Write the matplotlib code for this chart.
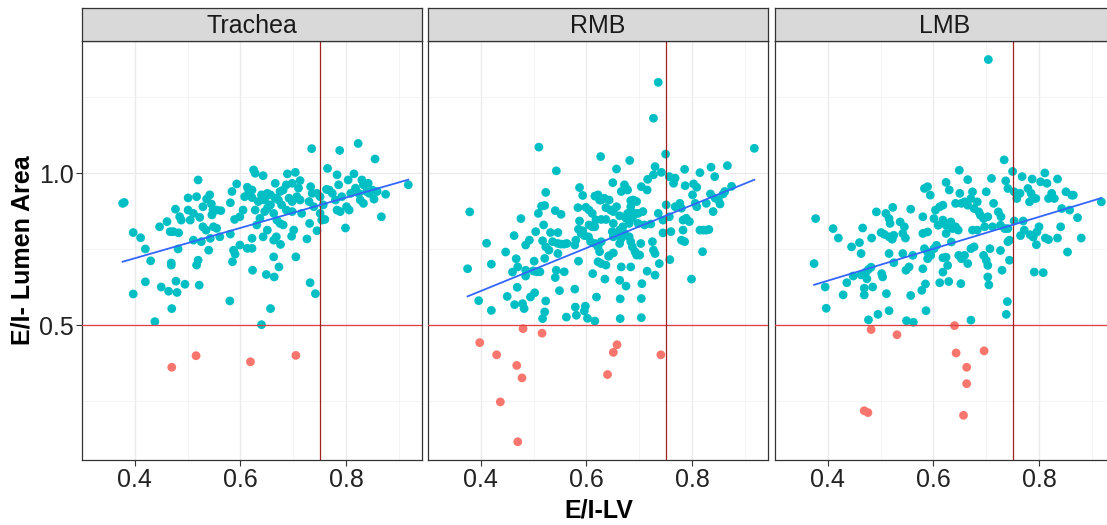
import numpy as np
import matplotlib
matplotlib.use('Agg')
import matplotlib.pyplot as plt

plt.rcParams['font.family'] = ['Liberation Sans', 'DejaVu Sans']

# facet names and cut-offs
panels = ['Trachea', 'RMB', 'LMB']
cut_lumen = 0.5
cut_lv = 0.75
x_ticks = [0.4, 0.6, 0.8]
x_minor = [0.3, 0.5, 0.7, 0.9]
y_ticks = [0.5, 1.0]
y_minor = [0.25, 0.75, 1.25]

# (E/I-LV, E/I lumen area)
trachea = [
    (0.377, 0.901), (0.380, 0.904), (0.397, 0.805), (0.411, 0.788), (0.420, 0.751), (0.430, 0.712),
    (0.397, 0.603), (0.420, 0.643), (0.438, 0.512), (0.447, 0.824), (0.450, 0.626), (0.464, 0.612),
    (0.470, 0.555), (0.469, 0.705), (0.469, 0.698), (0.478, 0.645), (0.480, 0.608), (0.495, 0.635),
    (0.482, 0.751), (0.461, 0.841), (0.467, 0.808), (0.473, 0.808), (0.483, 0.804), (0.477, 0.882),
    (0.485, 0.857), (0.488, 0.846), (0.501, 0.919), (0.501, 0.879), (0.505, 0.846), (0.511, 0.868),
    (0.517, 0.923), (0.520, 0.978), (0.523, 0.855), (0.529, 0.824), (0.522, 0.632), (0.517, 0.698),
    (0.520, 0.714), (0.511, 0.780), (0.526, 0.775), (0.540, 0.747), (0.529, 0.890), (0.536, 0.915),
    (0.542, 0.929), (0.545, 0.899), (0.548, 0.879), (0.555, 0.879), (0.563, 0.877), (0.546, 0.863),
    (0.549, 0.824), (0.535, 0.813), (0.543, 0.786), (0.561, 0.791), (0.555, 0.819), (0.581, 0.903),
    (0.584, 0.940), (0.593, 0.965), (0.589, 0.848), (0.599, 0.857), (0.605, 0.879), (0.613, 0.954),
    (0.616, 0.940), (0.622, 0.945), (0.625, 1.011), (0.628, 1.000), (0.643, 0.992), (0.622, 0.920),
    (0.608, 0.923), (0.634, 0.907), (0.628, 0.879), (0.581, 0.800), (0.587, 0.747), (0.590, 0.734),
    (0.585, 0.709), (0.599, 0.764), (0.613, 0.753), (0.622, 0.753), (0.622, 0.786), (0.623, 0.681),
    (0.580, 0.580), (0.631, 0.830), (0.637, 0.852), (0.643, 0.791), (0.651, 0.813), (0.649, 0.667),
    (0.657, 0.555), (0.640, 0.502), (0.663, 0.725), (0.664, 0.659), (0.673, 0.692), (0.668, 0.791),
    (0.663, 0.780), (0.676, 0.766), (0.646, 0.874), (0.651, 0.885), (0.657, 0.896), (0.663, 0.868),
    (0.669, 0.846), (0.675, 0.835), (0.681, 0.830), (0.651, 0.934), (0.657, 0.929), (0.666, 0.967),
    (0.675, 0.940), (0.681, 0.945), (0.687, 0.962), (0.689, 0.998), (0.698, 0.967), (0.704, 1.003),
    (0.710, 0.951), (0.713, 0.976), (0.692, 0.918), (0.698, 0.907), (0.707, 0.923), (0.713, 0.912),
    (0.716, 0.868), (0.698, 0.874), (0.687, 0.879), (0.678, 0.896), (0.672, 0.912), (0.640, 0.929),
    (0.646, 0.912), (0.666, 0.918), (0.701, 0.813), (0.697, 0.793), (0.705, 0.725), (0.726, 0.784),
    (0.731, 0.835), (0.732, 0.640), (0.742, 0.604), (0.745, 0.811), (0.733, 0.956), (0.736, 0.934),
    (0.730, 0.907), (0.739, 0.890), (0.745, 0.934), (0.751, 0.923), (0.757, 0.896), (0.754, 0.846),
    (0.760, 0.848), (0.751, 0.868), (0.735, 1.081), (0.765, 1.016), (0.763, 0.947), (0.768, 0.945),
    (0.774, 0.934), (0.783, 0.995), (0.786, 0.962), (0.780, 0.912), (0.783, 0.879), (0.789, 0.874),
    (0.792, 0.923), (0.788, 1.075), (0.804, 0.978), (0.806, 0.879), (0.801, 0.890), (0.799, 0.820),
    (0.809, 0.934), (0.815, 0.998), (0.818, 0.951), (0.824, 0.934), (0.823, 1.098), (0.830, 0.978),
    (0.833, 0.962), (0.842, 0.967), (0.839, 0.940), (0.844, 0.934), (0.827, 0.912), (0.833, 0.901),
    (0.850, 0.945), (0.855, 1.047), (0.859, 0.940), (0.853, 0.915), (0.867, 0.857), (0.875, 0.931),
    (0.918, 0.962),
    (0.470, 0.362), (0.516, 0.400), (0.619, 0.380), (0.705, 0.401),
]

rmb = [
    (0.736, 1.299), (0.727, 1.181), (0.510, 1.086), (0.918, 1.082), (0.750, 1.063), (0.627, 1.055),
    (0.682, 1.042), (0.657, 1.014), (0.543, 1.008), (0.730, 1.022), (0.727, 0.995), (0.742, 1.003),
    (0.786, 1.013), (0.815, 1.002), (0.836, 1.020), (0.843, 0.989), (0.867, 1.025), (0.757, 0.989),
    (0.768, 0.984), (0.765, 0.967), (0.716, 0.980), (0.787, 0.959), (0.809, 0.954), (0.803, 0.965),
    (0.875, 0.957), (0.379, 0.873), (0.375, 0.686), (0.396, 0.581), (0.420, 0.549), (0.411, 0.770),
    (0.420, 0.701), (0.447, 0.741), (0.450, 0.595), (0.463, 0.795), (0.467, 0.719), (0.470, 0.692),
    (0.460, 0.675), (0.469, 0.625), (0.464, 0.568), (0.479, 0.571), (0.482, 0.555), (0.476, 0.851),
    (0.485, 0.764), (0.492, 0.780), (0.485, 0.681), (0.485, 0.662), (0.499, 0.679), (0.501, 0.711),
    (0.504, 0.808), (0.505, 0.676), (0.512, 0.676), (0.494, 0.593), (0.502, 0.607), (0.509, 0.868),
    (0.515, 0.892), (0.521, 0.894), (0.519, 0.830), (0.523, 0.937), (0.517, 0.778), (0.523, 0.758),
    (0.529, 0.747), (0.521, 0.720), (0.523, 0.580), (0.521, 0.544), (0.517, 0.522), (0.532, 0.805),
    (0.536, 0.775), (0.546, 0.805), (0.546, 0.769), (0.552, 0.767), (0.558, 0.767), (0.563, 0.769),
    (0.541, 0.877), (0.552, 0.865), (0.546, 0.736), (0.543, 0.681), (0.541, 0.657), (0.558, 0.676),
    (0.549, 0.614), (0.562, 0.527), (0.578, 0.619), (0.579, 0.560), (0.581, 0.533), (0.598, 0.563),
    (0.596, 0.547), (0.602, 0.523), (0.616, 0.514), (0.585, 0.711), (0.587, 0.953), (0.593, 0.927),
    (0.584, 0.887), (0.587, 0.843), (0.585, 0.816), (0.580, 0.780), (0.578, 0.764), (0.590, 0.802),
    (0.593, 0.811), (0.596, 0.795), (0.599, 0.888), (0.605, 0.879), (0.611, 0.868), (0.616, 0.925),
    (0.622, 0.929), (0.625, 0.912), (0.628, 0.912), (0.634, 0.918), (0.637, 0.887), (0.637, 0.848),
    (0.628, 0.848), (0.618, 0.847), (0.616, 0.824), (0.611, 0.824), (0.605, 0.830), (0.604, 0.791),
    (0.608, 0.775), (0.616, 0.769), (0.622, 0.758), (0.625, 0.742), (0.628, 0.775), (0.622, 0.709),
    (0.628, 0.703), (0.637, 0.698), (0.643, 0.729), (0.635, 0.652), (0.612, 0.670), (0.619, 0.593),
    (0.649, 0.808), (0.651, 0.835), (0.650, 0.969), (0.643, 0.912), (0.646, 0.879), (0.651, 0.874),
    (0.657, 0.890), (0.663, 0.860), (0.666, 0.940), (0.672, 0.962), (0.675, 0.951), (0.678, 0.945),
    (0.684, 0.910), (0.689, 0.912), (0.695, 0.907), (0.704, 0.956), (0.715, 0.945), (0.707, 0.874),
    (0.698, 0.868), (0.692, 0.868), (0.687, 0.852), (0.681, 0.835), (0.675, 0.852), (0.678, 0.868),
    (0.684, 0.890), (0.669, 0.824), (0.663, 0.813), (0.657, 0.802), (0.651, 0.791), (0.663, 0.769),
    (0.666, 0.786), (0.672, 0.802), (0.681, 0.791), (0.684, 0.775), (0.687, 0.758), (0.692, 0.742),
    (0.695, 0.731), (0.701, 0.731), (0.698, 0.835), (0.703, 0.769), (0.710, 0.830), (0.722, 0.833),
    (0.725, 0.775), (0.727, 0.747), (0.730, 0.736), (0.736, 0.868), (0.738, 0.703), (0.730, 0.665),
    (0.715, 0.678), (0.705, 0.637), (0.704, 0.588), (0.704, 0.525), (0.675, 0.629), (0.663, 0.648),
    (0.666, 0.692), (0.684, 0.692), (0.664, 0.587), (0.664, 0.522), (0.642, 0.727), (0.651, 0.738),
    (0.745, 0.846), (0.751, 0.896), (0.757, 0.857), (0.760, 0.808), (0.745, 0.804), (0.758, 0.716),
    (0.768, 0.890), (0.777, 0.901), (0.780, 0.885), (0.783, 0.846), (0.789, 0.852), (0.795, 0.841),
    (0.783, 0.813), (0.780, 0.780), (0.786, 0.775), (0.801, 0.929), (0.806, 0.901), (0.809, 0.890),
    (0.815, 0.813), (0.821, 0.813), (0.827, 0.813), (0.832, 0.815), (0.820, 0.742), (0.799, 0.652),
    (0.827, 0.901), (0.835, 0.932), (0.840, 0.874), (0.844, 0.918), (0.850, 0.912), (0.853, 0.899),
    (0.859, 0.932), (0.862, 0.940),
    (0.480, 0.489), (0.516, 0.474), (0.398, 0.443), (0.430, 0.403), (0.468, 0.368), (0.478, 0.327),
    (0.437, 0.248), (0.470, 0.117), (0.658, 0.436), (0.651, 0.411), (0.640, 0.338), (0.741, 0.403),
]

lmb = [
    (0.704, 1.374), (0.734, 1.044), (0.649, 1.010), (0.750, 1.006), (0.811, 1.001), (0.665, 0.979),
    (0.710, 0.983), (0.737, 0.975), (0.768, 0.989), (0.787, 0.981), (0.803, 0.972), (0.815, 0.967),
    (0.835, 0.981), (0.624, 0.970), (0.630, 0.945), (0.583, 0.950), (0.589, 0.956), (0.594, 0.928),
    (0.741, 0.950), (0.753, 0.939), (0.758, 0.917), (0.764, 0.934), (0.779, 0.950), (0.785, 0.934),
    (0.782, 0.906), (0.788, 0.917), (0.794, 0.917), (0.818, 0.917), (0.824, 0.934), (0.829, 0.917),
    (0.851, 0.939), (0.862, 0.928), (0.865, 0.928), (0.843, 0.884), (0.858, 0.879), (0.873, 0.854),
    (0.880, 0.787), (0.854, 0.741), (0.841, 0.824), (0.835, 0.787), (0.818, 0.782), (0.812, 0.787),
    (0.800, 0.824), (0.796, 0.807), (0.795, 0.765), (0.789, 0.790), (0.783, 0.798), (0.772, 0.813),
    (0.770, 0.843), (0.765, 0.795), (0.918, 0.906), (0.791, 0.675), (0.808, 0.673), (0.377, 0.851),
    (0.374, 0.703), (0.395, 0.626), (0.397, 0.556), (0.410, 0.818), (0.420, 0.787), (0.429, 0.600),
    (0.436, 0.640), (0.445, 0.758), (0.460, 0.772), (0.463, 0.736), (0.448, 0.662), (0.463, 0.666),
    (0.472, 0.675), (0.477, 0.684), (0.482, 0.691), (0.474, 0.653), (0.469, 0.622), (0.469, 0.600),
    (0.485, 0.626), (0.466, 0.820), (0.483, 0.787), (0.492, 0.873), (0.510, 0.868), (0.523, 0.888),
    (0.516, 0.851), (0.518, 0.835), (0.501, 0.805), (0.507, 0.799), (0.516, 0.791), (0.522, 0.783),
    (0.525, 0.796), (0.516, 0.736), (0.525, 0.706), (0.502, 0.670), (0.504, 0.659), (0.511, 0.604),
    (0.516, 0.548), (0.495, 0.536), (0.477, 0.518), (0.537, 0.840), (0.545, 0.824), (0.542, 0.802),
    (0.547, 0.787), (0.557, 0.882), (0.542, 0.736), (0.548, 0.681), (0.554, 0.692), (0.557, 0.598),
    (0.549, 0.515), (0.562, 0.510), (0.561, 0.730), (0.580, 0.857), (0.589, 0.807), (0.580, 0.802),
    (0.583, 0.752), (0.589, 0.741), (0.595, 0.730), (0.589, 0.719), (0.601, 0.752), (0.606, 0.763),
    (0.580, 0.686), (0.585, 0.636), (0.578, 0.615), (0.586, 0.548), (0.604, 0.879), (0.612, 0.890),
    (0.618, 0.895), (0.601, 0.851), (0.609, 0.829), (0.618, 0.846), (0.624, 0.829), (0.633, 0.840),
    (0.636, 0.818), (0.642, 0.824), (0.647, 0.813), (0.624, 0.802), (0.634, 0.774), (0.618, 0.722),
    (0.624, 0.724), (0.627, 0.697), (0.618, 0.675), (0.612, 0.640), (0.629, 0.644), (0.652, 0.637),
    (0.642, 0.901), (0.650, 0.934), (0.653, 0.901), (0.659, 0.906), (0.665, 0.895), (0.671, 0.917),
    (0.674, 0.939), (0.677, 0.884), (0.683, 0.906), (0.686, 0.873), (0.689, 0.862), (0.695, 0.851),
    (0.700, 0.939), (0.703, 0.857), (0.714, 0.901), (0.723, 0.873), (0.728, 0.857), (0.648, 0.730),
    (0.653, 0.719), (0.659, 0.730), (0.665, 0.703), (0.671, 0.752), (0.677, 0.758), (0.695, 0.730),
    (0.700, 0.714), (0.703, 0.697), (0.707, 0.752), (0.727, 0.746), (0.730, 0.681), (0.741, 0.775),
    (0.744, 0.714), (0.744, 0.780), (0.703, 0.659), (0.705, 0.633), (0.671, 0.517), (0.740, 0.578),
    (0.738, 0.536), (0.674, 0.813), (0.683, 0.813), (0.697, 0.824), (0.712, 0.824), (0.735, 0.818),
    (0.741, 0.818), (0.753, 0.843), (0.727, 0.829),
    (0.482, 0.486), (0.531, 0.469), (0.640, 0.499), (0.643, 0.409), (0.696, 0.416), (0.663, 0.362),
    (0.663, 0.308), (0.469, 0.219), (0.476, 0.213), (0.657, 0.204),
]

data = {'Trachea': trachea, 'RMB': rmb, 'LMB': lmb}

teal = '#00BFC4'
salmon = '#F8766D'
border = '#333333'

W, H = 1107, 525
fig = plt.figure(figsize=(W / 100, H / 100), dpi=100)

# panel layout in pixels
lefts = [82, 428, 775]
pw = 340
top, bottom = 41, 460
strip_top = 8
xlim = (0.3474, 0.9439)
ylim = (0.057, 1.435)

for i, name in enumerate(panels):
    pts = np.array(data[name])
    x, y = pts[:, 0], pts[:, 1]
    l = lefts[i]
    ax = fig.add_axes([l / W, (H - bottom) / H, pw / W, (bottom - top) / H])
    ax.set_xlim(xlim)
    ax.set_ylim(ylim)
    ax.set_xticks(x_ticks)
    ax.set_xticks(x_minor, minor=True)
    ax.set_yticks(y_ticks)
    ax.set_yticks(y_minor, minor=True)
    ax.grid(which='major', color='#EBEBEB', lw=1.0)
    ax.grid(which='minor', color='#F3F3F3', lw=0.6)
    ax.set_axisbelow(True)
    for s in ax.spines.values():
        s.set_color(border)
        s.set_linewidth(0.9)
    ax.tick_params(which='major', length=4, width=0.8, color=border,
                   labelsize=18, labelcolor='#222222', pad=2)
    ax.tick_params(which='minor', length=0)
    ax.set_xticklabels(['%.1f' % t for t in x_ticks])
    if i == 0:
        ax.set_yticklabels(['%.1f' % t for t in y_ticks])
    else:
        ax.tick_params(axis='y', labelleft=False, length=0)

    cols = np.where(y < cut_lumen, salmon, teal)
    ax.scatter(x, y, s=40, c=cols, linewidths=0, zorder=2)

    # linear fit like geom_smooth(method='lm')
    k, b = np.polyfit(x, y, 1)
    xx = np.array([x.min(), x.max()])
    ax.plot(xx, k * xx + b, color='#3366FF', lw=1.3, zorder=4)

    ax.axhline(cut_lumen, color='#E04040', lw=0.9, zorder=3)
    ax.axvline(cut_lv, color='#A02020', lw=0.9, zorder=3)

    # facet strip
    sax = fig.add_axes([l / W, (H - top) / H, pw / W, (top - strip_top) / H])
    sax.set_facecolor('#D9D9D9')
    sax.set_xticks([])
    sax.set_yticks([])
    for s in sax.spines.values():
        s.set_color(border)
        s.set_linewidth(0.9)
    sax.text(0.5, 0.45, name, ha='center', va='center', fontsize=18,
             color='#1A1A1A', transform=sax.transAxes)

# axis titles
fig.text((82 + 1115) / 2 / W, (H - 510) / H, 'E/I-LV', ha='center', va='center',
         fontsize=18, fontweight='bold')
fig.text(23 / W, (H - (top + bottom) / 2) / H, 'E/I- Lumen Area', ha='center',
         va='center', rotation=90, fontsize=18, fontweight='bold')

fig.savefig('out.png', dpi=100, facecolor='white')
